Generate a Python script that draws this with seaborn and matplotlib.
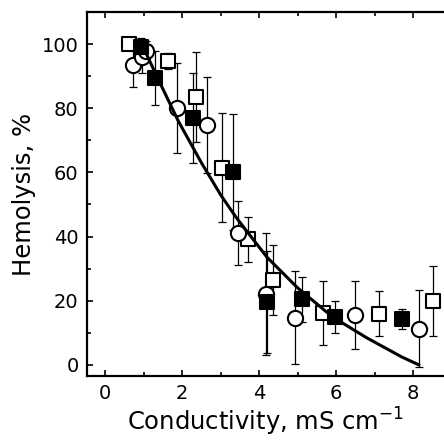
import numpy as np
import matplotlib
matplotlib.use("Agg")
import matplotlib.pyplot as plt
import seaborn as sns

# open squares
sq_open_x = [0.62, 1.64, 2.36, 3.04, 3.71, 4.36, 5.66, 7.12, 8.52]
sq_open_y = [100, 94.7, 83.5, 61.4, 39.2, 26.5, 16.2, 15.9, 19.9]
sq_open_err = [1.5, 2.5, 14, 17, 7, 11, 10, 7, 11]

# filled squares
sq_fill_x = [0.94, 1.30, 2.29, 3.32, 4.20, 5.12, 5.97, 7.71]
sq_fill_y = [99, 89.4, 77, 60.1, 19.6, 20.5, 15, 14.3]
sq_fill_err = [3, 8.5, 14, 18, 16, 7, 5, 3]

# open circles
circ_x = [0.73, 0.96, 1.06, 1.87, 2.65, 3.45, 4.18, 4.94, 6.49, 8.16]
circ_y = [93.5, 96, 97.8, 80, 74.8, 41, 22, 14.7, 15.6, 11.2]
circ_err = [7, 5, 3, 14, 15, 10, 19, 14.5, 10.5, 12]

# fitted curve
fit_x = [0.95, 1.4, 1.9, 2.5, 3.0, 3.4, 4.2, 5.0, 5.9, 6.8, 7.7, 8.15]
fit_y = [100, 88.5, 76, 63, 53, 46, 33.6, 24, 15, 8.4, 2.5, 0]

sns.set_style("ticks", {"axes.edgecolor": "black", "text.color": "black",
                        "xtick.color": "black", "ytick.color": "black",
                        "axes.labelcolor": "black"})
plt.rcParams['font.family'] = ['DejaVu Sans']

fig = plt.figure(figsize=(4.44, 4.42), dpi=100)
ax = fig.add_axes([0.196, 0.149, 0.804, 0.824])

eb = dict(fmt='none', ecolor='black', elinewidth=0.9, capsize=3, capthick=0.9, zorder=1)
ax.errorbar(sq_open_x, sq_open_y, yerr=sq_open_err, **eb)
ax.errorbar(sq_fill_x, sq_fill_y, yerr=sq_fill_err, **eb)
ax.errorbar(circ_x, circ_y, yerr=circ_err, **eb)

sns.scatterplot(x=sq_open_x, y=sq_open_y, marker='s', s=110, facecolor='white',
                edgecolor='black', linewidth=1.5, ax=ax, zorder=3)
sns.scatterplot(x=circ_x, y=circ_y, marker='o', s=120, facecolor='white',
                edgecolor='black', linewidth=1.5, ax=ax, zorder=3)
sns.scatterplot(x=sq_fill_x, y=sq_fill_y, marker='s', s=110, facecolor='black',
                edgecolor='black', linewidth=1.5, ax=ax, zorder=4)
sns.lineplot(x=fit_x, y=fit_y, color='black', lw=2.2, ax=ax, zorder=5, sort=False)

ax.set_xlim(-0.47, 8.8)
ax.set_ylim(-3.5, 110)
ax.set_xticks([0, 2, 4, 6, 8])
ax.set_xticks([1, 3, 5, 7], minor=True)
ax.set_yticks([0, 20, 40, 60, 80, 100])
ax.set_yticks([10, 30, 50, 70, 90], minor=True)

ax.spines['right'].set_visible(False)
for s in ['left', 'bottom', 'top']:
    ax.spines[s].set_linewidth(1.6)
    ax.spines[s].set_color('black')

ax.tick_params(axis='both', which='both', direction='in', width=1.2, labelsize=14,
               top=True, colors='black')
ax.tick_params(which='major', length=4)
ax.tick_params(which='minor', length=3)
ax.tick_params(axis='x', pad=6)
ax.tick_params(axis='y', pad=6)

ax.set_xlabel('Conductivity, mS cm$^{-1}$', fontsize=17.5, labelpad=2, color='black')
ax.set_ylabel('Hemolysis, %', fontsize=17.5, labelpad=4, color='black')

fig.savefig('out.png', dpi=100)
